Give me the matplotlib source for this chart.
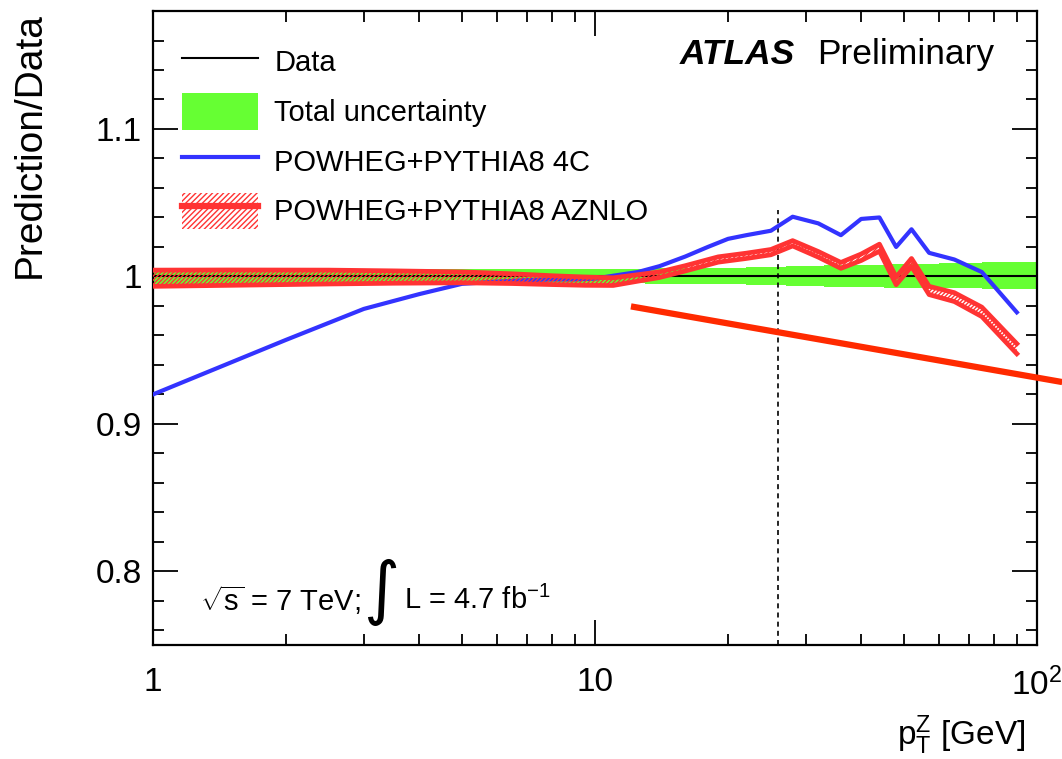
import matplotlib
matplotlib.use("Agg")
import matplotlib.pyplot as plt
from matplotlib.lines import Line2D
from matplotlib.patches import Patch
from matplotlib.ticker import FixedLocator, FixedFormatter, MultipleLocator
import numpy as np

plt.rcParams['font.family'] = ['Liberation Sans', 'DejaVu Sans']
plt.rcParams['mathtext.fontset'] = 'custom'
plt.rcParams['mathtext.rm'] = 'Liberation Sans'
plt.rcParams['mathtext.it'] = 'Liberation Sans:italic'
plt.rcParams['hatch.linewidth'] = 1.0

# total uncertainty band (histogram bins)
unc_edges = [1, 1.2, 1.8, 2.5, 4, 6.5, 10, 13, 17, 22, 27, 33, 45, 60, 75, 100]
unc_up = [0.0055, 0.0052, 0.0050, 0.0050, 0.0050, 0.0050, 0.0052, 0.0054,
          0.0058, 0.0065, 0.0072, 0.0078, 0.0085, 0.0092, 0.0095]
unc_dn = [0.0055, 0.0052, 0.0050, 0.0048, 0.0048, 0.0046, 0.0046, 0.0048,
          0.0050, 0.0056, 0.0062, 0.0070, 0.0075, 0.0080, 0.0085]

# POWHEG+PYTHIA8 4C
pt_4c = [1, 2, 3, 4, 5, 6, 7, 8, 9, 10, 11, 12.5, 14, 16, 18, 20, 22, 25, 28,
         32, 36, 40, 44, 48, 52, 57, 65, 75, 90]
ratio_4c = [0.920, 0.957, 0.978, 0.988, 0.9950, 0.9965, 0.9975, 0.998, 0.998,
            0.9985, 1.0005, 1.003, 1.007, 1.0135, 1.020, 1.0255, 1.028, 1.031,
            1.0405, 1.036, 1.028, 1.039, 1.040, 1.020, 1.032, 1.016, 1.0115,
            1.003, 0.9757]

# POWHEG+PYTHIA8 AZNLO with its uncertainty
pt_az = [1, 1.5, 2.5, 3.5, 5, 6.5, 8, 9.5, 11, 12.5, 14, 16, 19, 22, 25, 28,
         32, 36, 40, 44, 48, 52, 57, 65, 75, 90]
ratio_az = [0.9988, 0.9992, 0.9996, 0.9996, 0.9994, 0.9985, 0.9975, 0.9968,
            0.9965, 0.9990, 1.0012, 1.0055, 1.0115, 1.0140, 1.0165, 1.0225,
            1.0150, 1.0075, 1.0130, 1.0195, 0.9970, 1.0095, 0.9905, 0.9860,
            0.9760, 0.9510]
err_az = [0.0055, 0.0052, 0.0047, 0.0042, 0.0037, 0.0033, 0.0030, 0.0028,
          0.0026, 0.0022, 0.0019, 0.0018, 0.0018, 0.0018, 0.0018, 0.0018,
          0.0019, 0.0020, 0.0022, 0.0024, 0.0026, 0.0027, 0.0028, 0.0030,
          0.0032, 0.0034]

pt_cut = 26.0
green = '#66ff33'
blue = '#3333ff'
red = '#ff3333'

W, H = 1062, 759
fig = plt.figure(figsize=(W / 100, H / 100), dpi=100)
ax = fig.add_axes([0.144, 0.150, 0.8325, 0.8355])

ax.set_xscale('log')
ax.set_xlim(1, 100)
ax.set_ylim(0.75, 1.18)

up = np.array(unc_up + [unc_up[-1]])
dn = np.array(unc_dn + [unc_dn[-1]])
ax.fill_between(unc_edges, 1 + up, 1 - dn, step='post', color=green, lw=0, zorder=1)
ax.plot([1, 100], [1, 1], color='black', lw=1.5, zorder=2)

ax.plot(pt_4c, ratio_4c, color=blue, lw=3, zorder=3)

az = np.array(ratio_az)
ea = np.array(err_az)
ax.fill_between(pt_az, az - ea, az + ea, facecolor='none', edgecolor=red,
                hatch='////////', lw=0, zorder=4)
ax.plot(pt_az, az + ea, color=red, lw=3.4, zorder=4)
ax.plot(pt_az, az - ea, color=red, lw=3.4, zorder=4)

ax.plot([pt_cut, pt_cut], [0.75, 1.045], color='black', ls=(0, (3, 2.5)), lw=1.2, zorder=2)

# red guide line running out past the right edge
ax.plot([12.06, 114], [0.9797, 0.9284], color='#ff2a00', lw=4.5, clip_on=False,
        solid_capstyle='butt', zorder=5)

ax.xaxis.set_major_locator(FixedLocator([1, 10, 100]))
ax.xaxis.set_major_formatter(FixedFormatter(['1', '10', '$10^{2}$']))
minor_x = [v * d for d in (1, 10) for v in range(2, 10)]
ax.xaxis.set_minor_locator(FixedLocator(minor_x))
ax.xaxis.set_minor_formatter(FixedFormatter([''] * len(minor_x)))
ax.yaxis.set_major_locator(FixedLocator([0.8, 0.9, 1.0, 1.1]))
ax.yaxis.set_major_formatter(FixedFormatter(['0.8', '0.9', '1', '1.1']))
ax.yaxis.set_minor_locator(MultipleLocator(0.02))

ax.tick_params(which='both', direction='in', top=True, right=True, width=1.3)
ax.tick_params(which='major', length=18)
ax.tick_params(which='minor', length=8)
ax.tick_params(axis='x', which='major', labelsize=24, pad=16)
ax.tick_params(axis='y', which='major', labelsize=24, pad=8)
for s in ax.spines.values():
    s.set_linewidth(1.6)

fig.text(30 / W, 1 - 12 / H, 'Prediction/Data', rotation=90,
         ha='center', va='top', fontsize=28)
fig.text(1025 / W, 24 / H, r'$\mathrm{p}_{\mathrm{T}}^{\mathrm{Z}}$ [GeV]',
         ha='right', va='center', fontsize=24)

ax.text(0.596, 0.931, 'ATLAS', transform=ax.transAxes, fontsize=25.5,
        fontweight='bold', fontstyle='italic', va='center', ha='left')
ax.text(0.751, 0.931, 'Preliminary', transform=ax.transAxes, fontsize=25.5,
        va='center', ha='left')

# luminosity label, integral sign drawn larger on its own
fig.text(200 / W, 1 - 600 / H, r'$\sqrt{\mathrm{s}}$ = 7 TeV;',
         fontsize=21, va='center', ha='left')
fig.text(381 / W, 1 - 592 / H, '\u222b', fontsize=50, va='center', ha='center',
         family=['DejaVu Sans'])
fig.text(404 / W, 1 - 600 / H, r'L = 4.7 fb$^{\mathrm{-1}}$',
         fontsize=21, va='center', ha='left')

handles = [
    Line2D([], [], color='black', lw=1.5),
    Patch(facecolor=green, edgecolor='none'),
    Line2D([], [], color=blue, lw=3),
    (Patch(facecolor='none', edgecolor=red, hatch='//////', lw=0),
     Line2D([], [], color=red, lw=4.5)),
]
labels = ['Data', 'Total uncertainty', 'POWHEG+PYTHIA8 4C', 'POWHEG+PYTHIA8 AZNLO']
ax.legend(handles, labels, loc='upper left', bbox_to_anchor=(0.02, 0.967),
          frameon=False, fontsize=21, handlelength=2.6, handleheight=1.55,
          handletextpad=0.55, labelspacing=0.45, borderaxespad=0)

fig.savefig('out.png', dpi=100)
